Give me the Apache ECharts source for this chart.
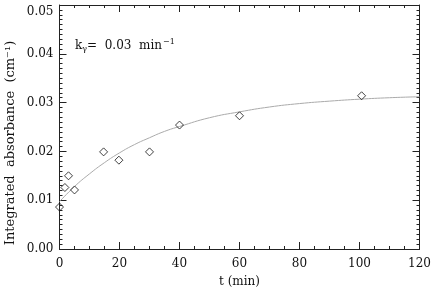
<!DOCTYPE html>
<html><head><meta charset="utf-8">
<script src="https://cdn.jsdelivr.net/npm/echarts@6/dist/echarts.min.js"></script>
<style>html,body{margin:0;padding:0;background:#fff}#c{width:436px;height:290px}</style>
</head><body><div id="c"></div>
<script>
// Measured points
const pointT = [0, 1.8, 3, 5, 14.7, 19.8, 30, 40, 60, 100.7];
const pointA = [0.0086, 0.0126, 0.0150, 0.0121, 0.0199, 0.0182, 0.0199, 0.0254, 0.0273, 0.0314];
// Fitted curve
const curveT = [0, 5, 10, 15, 20, 25, 30, 35, 40, 50, 60, 70, 80, 90, 100, 110, 120];
const curveA = [0.0097, 0.0128, 0.0154, 0.0177, 0.0197, 0.0214, 0.0228, 0.0241, 0.0251, 0.0269, 0.0281, 0.0291, 0.0298, 0.0303, 0.0307, 0.0310, 0.0312];
const xTicks = [0, 20, 40, 60, 80, 100, 120];
const yTicks = [0.00, 0.01, 0.02, 0.03, 0.04, 0.05];
const yTitle = 'Integrated  absorbance  (cm\u207B\u00B9)';
const xTitle = 't (min)';

const FONT = 'DejaVu Serif';
const FS = 12;
const chart = echarts.init(document.getElementById('c'), null, {renderer: 'canvas'});
const axCol = '#222';
const baseX = {
  type: 'value', min: 0, max: 120, interval: 20,
  axisLine: {show: true, onZero: false, lineStyle: {color: axCol, width: 1}},
  axisTick: {show: true, inside: true, length: 7, lineStyle: {color: axCol}},
  minorTick: {show: true, splitNumber: 4, length: 3, lineStyle: {color: axCol}},
  splitLine: {show: false}
};
const baseY = {
  type: 'value', min: 0, max: 0.05, interval: 0.01,
  axisLine: {show: true, onZero: false, lineStyle: {color: axCol, width: 1}},
  axisTick: {show: true, inside: true, length: 7, lineStyle: {color: axCol}},
  minorTick: {show: true, splitNumber: 10, length: 3, lineStyle: {color: axCol}},
  splitLine: {show: false}
};
chart.setOption({
  animation: false,
  grid: {left: 59.5, right: 16.5, top: 5, bottom: 41, containLabel: false, outerBoundsMode: 'none'},
  xAxis: [
    Object.assign({}, baseX, {position: 'bottom',
      name: xTitle, nameLocation: 'middle', nameGap: 27,
      nameTextStyle: {fontFamily: FONT, fontSize: FS, color: '#111'},
      axisLabel: {show: true, margin: 9, fontFamily: FONT, fontSize: FS, color: '#111',
        formatter: v => xTicks.includes(v) ? String(v) : ''}}),
    Object.assign({}, baseX, {position: 'top', axisLabel: {show: false}})
  ],
  yAxis: [
    Object.assign({}, baseY, {position: 'left',
      axisLabel: {show: true, margin: 6, fontFamily: FONT, fontSize: FS, color: '#111',
        formatter: v => v >= 0.049 ? '{t|' + v.toFixed(2) + '}' : v.toFixed(2),
        rich: {t: {fontFamily: FONT, fontSize: FS, color: '#111', padding: [14, 0, 0, 0]}}}}),
    Object.assign({}, baseY, {position: 'right', axisLabel: {show: false}})
  ],
  graphic: [{
    type: 'text', x: 11, y: 143, rotation: Math.PI / 2,
    style: {text: yTitle, fontFamily: FONT, fontSize: 13, fill: '#111',
      align: 'center', verticalAlign: 'middle'}
  }, {
    type: 'text', left: 75, top: 38,
    style: {
      text: '{a|k}{s|\u03B3}{a|=  0.03  min}{p|\u22121}',
      rich: {
        a: {fontFamily: FONT, fontSize: FS, fill: '#111'},
        s: {fontFamily: FONT, fontSize: 8, fill: '#111', padding: [6, 0, 0, 0]},
        p: {fontFamily: FONT, fontSize: 8, fill: '#111', padding: [0, 0, 7, 1]}
      }
    }
  }],
  series: [
    {type: 'line', data: curveT.map((t, i) => [t, curveA[i]]), smooth: true, symbol: 'none',
      lineStyle: {color: '#aaaaaa', width: 1}, z: 2},
    {type: 'scatter', data: pointT.map((t, i) => [t, pointA[i]]),
      symbol: 'path://M0,-1 L1,0 L0,1 L-1,0 Z', symbolSize: 8,
      itemStyle: {color: 'transparent', borderColor: '#111', borderWidth: 1}, z: 3}
  ]
});
</script></body></html>
